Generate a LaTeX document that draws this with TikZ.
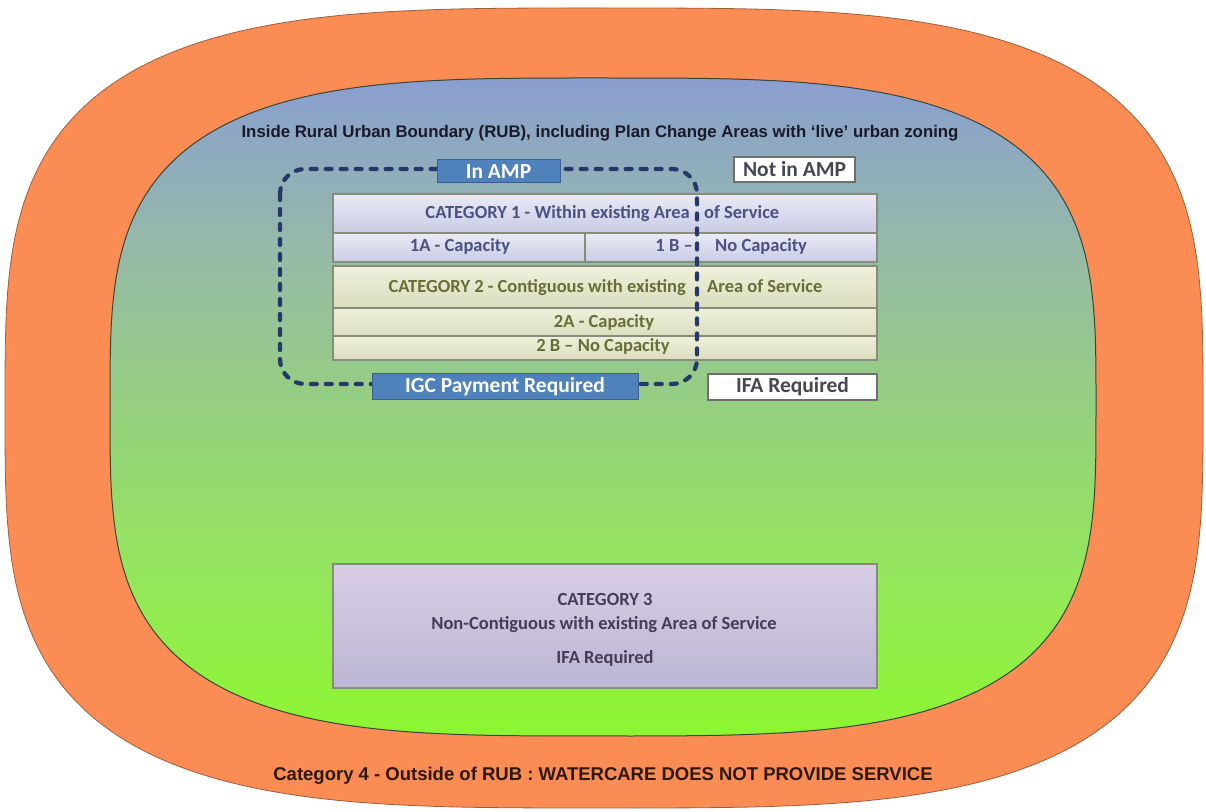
\documentclass[tikz,border=0pt]{standalone}
\usepackage{fontspec}
\setmainfont{Carlito}
\newfontfamily\arialfont{Liberation Sans}
\newcommand\myfs[1]{\fontsize{#1}{#1}\selectfont}
\definecolor{orangeF}{RGB}{250,140,84}
\definecolor{orangeD}{RGB}{160,95,60}
\definecolor{innerD}{RGB}{55,70,55}
\definecolor{dashC}{RGB}{38,56,105}
\definecolor{ampBlue}{RGB}{79,129,189}
\definecolor{ampBorder}{RGB}{60,95,145}
\definecolor{catOneT}{RGB}{75,82,130}
\definecolor{catTwoT}{RGB}{105,110,55}
\definecolor{catThreeT}{RGB}{70,60,90}
\definecolor{rowBorder}{RGB}{135,140,125}
\definecolor{lavTop}{RGB}{234,234,245}
\definecolor{lavBot}{RGB}{200,204,228}
\definecolor{olvTop}{RGB}{238,240,218}
\definecolor{olvBot}{RGB}{218,222,190}
\definecolor{purTop}{RGB}{216,205,228}
\definecolor{purBot}{RGB}{188,182,212}
\definecolor{wBorder}{RGB}{110,110,110}
\definecolor{titleT}{RGB}{25,25,40}
\definecolor{catFourT}{RGB}{45,25,15}
\pgfdeclareverticalshading{rubshade}{100bp}{rgb(0bp)=(.549,.965,.188); rgb(25bp)=(.549,.965,.188); rgb(36bp)=(.58,.91,.345); rgb(50bp)=(.588,.812,.502); rgb(62bp)=(.588,.729,.659); rgb(75bp)=(.541,.62,.816); rgb(100bp)=(.541,.62,.816)}
\tikzset{
  ampbox/.style={fill=ampBlue, draw=ampBorder, line width=1pt, text=white, font=\bfseries\myfs{21.5}, inner sep=0pt},
  whitebox/.style={fill=white, draw=wBorder, line width=1.2pt, text=titleT!80, font=\bfseries\myfs{21.5}, inner sep=0pt},
  rowone/.style={top color=lavTop, bottom color=lavBot, draw=rowBorder, line width=1.2pt},
  rowtwo/.style={top color=olvTop, bottom color=olvBot, draw=rowBorder, line width=1.2pt},
  txtone/.style={text=catOneT, font=\bfseries\myfs{18.5}, inner sep=0pt},
  txttwo/.style={text=catTwoT, font=\bfseries\myfs{18.5}, inner sep=0pt},
  txtthree/.style={text=catThreeT, font=\bfseries\myfs{18.5}, inner sep=0pt, anchor=base},
  amploop/.style={draw=dashC, line width=4.2pt, dash pattern=on 6pt off 9pt, line cap=round, rounded corners=25pt}
}
\begin{document}
\begin{tikzpicture}[x=1pt,y=1pt]
\useasboundingbox (0,0) rectangle (1206,811);
% outer zone (Category 4)
\draw[fill=orangeF, draw=orangeD, line width=0.8pt]
  plot[domain=0.5:360.5, samples=241, variable=\t]
  ({604 + 599*cos(\t)*abs(cos(\t))^(2/3.4-1)}, {403 + 400*sin(\t)*abs(sin(\t))^(2/3.4-1)}) -- cycle;
% inner zone (RUB)
\shadedraw[shading=rubshade, draw=innerD, line width=1pt]
  plot[domain=0.5:360.5, samples=241, variable=\t]
  ({603 + 493*cos(\t)*abs(cos(\t))^(2/3.4-1)}, {404 + 329*sin(\t)*abs(sin(\t))^(2/3.4-1)}) -- cycle;
% title
\node[text=titleT, font=\arialfont\bfseries\myfs{16.8}] (title) at (600,678)
  {Inside Rural Urban Boundary (RUB), including Plan Change Areas with ‘live’ urban zoning};
% category 1 rows
\path[rowone] (333,617) rectangle (877,578);
\path[rowone] (333,578) rectangle (877,549);
\draw[rowBorder, line width=1.2pt] (585,578) -- (585,549);
% category 2 rows
\path[rowtwo] (333,545) rectangle (877,503);
\path[rowtwo] (333,503) rectangle (877,475);
\path[rowtwo] (333,475) rectangle (877,451);
% row texts
\node[txtone, anchor=base east] (c1a) at (690,592) {CATEGORY 1 - Within existing Area};
\node[txtone, anchor=base west] (c1b) at (704,592) {of Service};
\node[txtone, anchor=base] (r1a) at (460,559) {1A - Capacity};
\node[txtone, anchor=base east] (r1b) at (693,559) {1 B –};
\node[txtone, anchor=base west] (r1c) at (715,559) {No Capacity};
\node[txttwo, anchor=base east] (c2a) at (686,518.5) {CATEGORY 2 - Contiguous with existing};
\node[txttwo, anchor=base west] (c2b) at (707,518.5) {Area of Service};
\node[txttwo, anchor=base] (r2a) at (604,483) {2A - Capacity};
\node[txttwo, anchor=base] (r2b) at (603,459) {2 B – No Capacity};
% AMP dashed boundary
\path[amploop] (280,642) rectangle (697,427);
% label boxes
\node[ampbox, minimum width=123pt, minimum height=23pt] (inamp) at (498.5,639.5) {In AMP};
\node[whitebox, minimum width=121pt, minimum height=25pt] (notamp) at (794.5,641.5) {Not in AMP};
\node[ampbox, minimum width=266pt, minimum height=26pt] (igc) at (505,424) {IGC Payment Required};
\node[whitebox, minimum width=169pt, minimum height=26pt] (ifa) at (792.5,424) {IFA Required};
% category 3
\path[top color=purTop, bottom color=purBot, draw=rowBorder, line width=1.2pt] (333,247) rectangle (877,123);
\node[txtthree] (c3a) at (605,205) {CATEGORY 3};
\node[txtthree] (c3b) at (604,182) {Non-Contiguous with existing Area of Service};
\node[txtthree] (c3c) at (605,148) {IFA Required};
% category 4
\node[text=catFourT, font=\arialfont\bfseries\myfs{18.5}] (cat4) at (603,35)
  {Category 4 - Outside of RUB : WATERCARE DOES NOT PROVIDE SERVICE};
\end{tikzpicture}
\end{document}
